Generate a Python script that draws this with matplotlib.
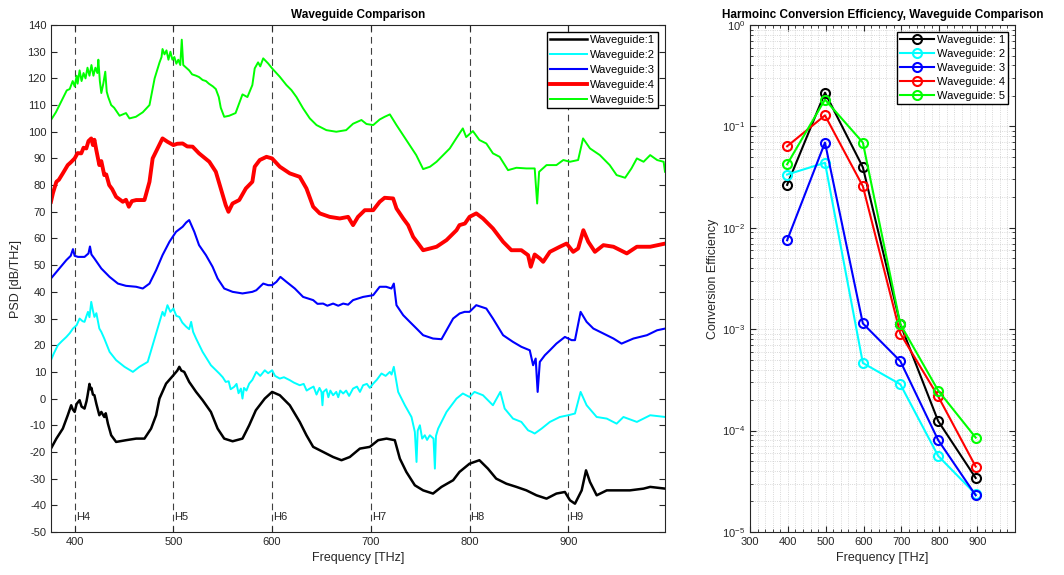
import numpy as np
import matplotlib.pyplot as plt
from matplotlib.ticker import MultipleLocator, LogLocator, NullFormatter

plt.rcParams['font.family'] = ['Liberation Sans', 'DejaVu Sans']
plt.rcParams['mathtext.fontset'] = 'custom'
plt.rcParams['mathtext.rm'] = 'Liberation Sans'
plt.rcParams['mathtext.it'] = 'Liberation Sans:italic'
plt.rcParams['axes.unicode_minus'] = False

# PSD traces, [frequency THz, PSD dB/THz]
wg1 = np.array([[376, -18.75], [381.5, -15], [388, -11.25], [393, -6.25], [396.5, -2.5], [398, -4], [400, -5],
                [402, -2], [405, -0.6], [407, -3], [410, -3.75], [412, -1], [413, 1], [415, 5.5], [416, 3.5],
                [417, 4], [418.5, 1.5], [420, 1.25], [422, -2], [425, -6.25], [427, -5], [430, -6.9],
                [431.5, -5.5], [433.7, -9.4], [437, -13.75], [442, -16.25], [452, -15.6], [462.3, -15],
                [470.7, -15], [477.4, -11.25], [482.5, -6.25], [485.9, 0], [492.6, 5.6], [500, 8.75],
                [504, 10.5], [506, 11.9], [508, 10.5], [511, 10], [516, 6.25], [523, 2.5], [529.6, -0.6],
                [538, -5], [544.8, -11.25], [551.5, -15], [560, -16], [570, -15], [576.8, -10], [583.5, -4.4],
                [592.6, 0], [600, 2.5], [607.8, 1.25], [617.9, -2.5], [628, -8.75], [634.8, -13.75],
                [641.6, -18.1], [651.7, -20], [661.8, -21.9], [670.3, -23.1], [678.7, -21.9], [688.9, -18.75],
                [699, -18.1], [707.4, -15.6], [715.9, -15], [724.3, -15.6], [729.4, -22.5], [736, -27.5],
                [744.6, -32.5], [753, -34.4], [763, -35.6], [771.6, -33.1], [783.4, -30.6], [789.8, -27.5],
                [800, -24.4], [810, -23.1], [818.6, -26.25], [827, -30], [837.3, -31.9], [847.5, -33.1],
                [857.6, -34.4], [867.8, -36.25], [878, -37.5], [888, -35.6], [896.6, -35], [901.7, -38.1],
                [906.8, -39.4], [913.6, -34.4], [918, -26.9], [922, -31.25], [928.8, -36.25], [939, -34.4],
                [949, -34.4], [962.4, -34.4], [976.3, -33.75], [983, -33.1], [998.3, -33.75]])

wg2 = np.array([[376, 14.4], [379, 17], [383, 20], [387, 21.5], [391.6, 23.1], [395, 24.5], [398.3, 26.25],
                [402, 27.5], [405, 30], [408, 29], [410, 28.75], [412, 31], [413.5, 32.5], [415, 30.5],
                [416.8, 36.25], [418.5, 33], [420, 30.6], [422, 32], [425, 26.25], [427, 25], [430, 22.5],
                [435.4, 17.5], [442, 14.4], [450.5, 11.9], [459, 10], [465.6, 11.9], [474, 13.75], [479, 20],
                [484, 26.25], [489, 32.5], [491, 31], [494, 35], [497, 32.5], [500, 33.75], [503, 31],
                [506, 30.6], [509, 28.5], [512.8, 27], [516, 26], [518, 28.75], [520, 25], [523, 22.5],
                [529.6, 17.5], [538, 12.5], [546.5, 9.4], [550, 8], [553, 6.25], [556, 6.5], [558, 3.5],
                [561.6, 4.4], [564, 5.5], [566, 2], [568.4, 3.75], [570, 0], [571.5, 4], [574, 3], [576.8, 5.6],
                [580, 7], [584, 10], [588, 8.5], [592.6, 10.6], [596, 9.5], [600, 10.6], [603, 8.5],
                [607.8, 7.5], [612, 8], [617.9, 6.9], [622, 6], [628, 5], [632, 5.5], [635, 3], [638.2, 3.75],
                [642, 4.5], [645, 1.5], [648, 4], [650, 2.5], [651, -2.5], [652, 2.5], [655, 3.5], [657, 0.5],
                [659, 3], [661.8, 1.25], [665, 2.5], [667, 0.5], [669, 3], [672, 1.9], [675, 3], [678, 1],
                [682, 3.75], [686, 4.5], [689, 2.5], [692.2, 5], [696, 5.5], [699, 4], [702.4, 5.6],
                [706, 7], [710.8, 9.4], [715, 8.5], [719.3, 10], [721, 9], [723.3, 11.9], [727.7, 2.5],
                [734.5, -2.5], [741.2, -6.9], [744.6, -12.5], [746.3, -23.75], [747.5, -12], [749.7, -10],
                [752, -15], [754.7, -13.75], [757, -15.5], [759.8, -13.75], [763.5, -15], [764.9, -26.25],
                [766, -14], [768.2, -11.25], [776.7, -5], [786.8, 0], [793.2, 1.9], [800, 0.6], [805, 2.5],
                [813.6, 1.25], [823.7, -2.5], [831.2, 2.5], [835.6, -3.75], [844, -7.5], [852.5, -8.75],
                [859.3, -11.9], [863, -12.5], [866, -13.1], [873, -11.25], [881.4, -8.75], [891.5, -6.9],
                [900, -6.25], [906.8, -5.6], [912.5, 2.5], [918.6, -2.5], [928.8, -6.9], [939, -7.5],
                [949, -9.4], [955.9, -6.9], [969.5, -8.75], [983, -6.25], [998.3, -6.9]])

wg3 = np.array([[376, 45], [383, 48.1], [391.6, 51.9], [396, 53.5], [398.3, 56], [400, 53.5], [403.4, 53.1],
                [410, 53.1], [414, 54.4], [415.5, 57], [417, 54], [420, 52.5], [427, 48.75], [435.4, 45.6],
                [443.8, 43.1], [452, 42.25], [462.3, 41.9], [469, 41.25], [475.8, 43.1], [482.5, 48.1],
                [489, 53.75], [496, 58.75], [502.7, 62.5], [509.4, 64.4], [513, 66], [516, 66.9],
                [521.2, 62.5], [526, 57.5], [533, 53.75], [539.7, 49.4], [544.8, 45], [551.5, 41.25],
                [560, 40], [570, 39.4], [580, 40], [584, 40.6], [591, 43.1], [596, 42.5], [600, 42.5],
                [604.4, 43.75], [608.4, 45.6], [614.5, 43.75], [623, 41.25], [631.4, 38.1], [641.6, 36.9],
                [646, 35.5], [651.7, 35.6], [656, 34.8], [661.8, 35.6], [667, 34.8], [672, 35.6], [677, 35.2],
                [682, 36.9], [692.2, 38.1], [702.4, 38.75], [709, 41.9], [715.5, 41.9], [720.9, 41.25],
                [723.3, 43.1], [726, 35], [732.8, 31.25], [739.5, 28.75], [746.3, 26.25], [753, 23.75],
                [763, 22.5], [771.6, 22.25], [776.7, 25.6], [783.4, 30], [790, 31.9], [795, 32.5], [800, 32.5],
                [806.8, 35], [817, 33.75], [823.7, 30], [834, 23.75], [844, 21.25], [852.5, 19.4], [861, 18.1],
                [864.4, 12.5], [867, 15], [869, 2.5], [871.2, 13.75], [876.3, 16.25], [881.4, 18.1], [888, 20.6],
                [896.6, 23.1], [903.4, 21.9], [906.8, 21.9], [912.5, 32.5], [918.6, 28.75], [925.4, 26.25],
                [939, 23.75], [945.8, 22.5], [954, 20.6], [966, 22.5], [979.7, 23.75], [990, 25.6],
                [998.3, 26.25]])

wg4 = np.array([[376, 73.75], [378, 77], [381.5, 81.25], [384, 82], [388, 84.4], [393, 87.5], [396, 88.5],
                [400, 90], [403, 92], [406.7, 91.9], [409, 94], [411.8, 93.75], [414, 96.5], [416.8, 97.5],
                [418.5, 95], [420, 97], [422, 93], [425, 87.5], [427, 89], [430, 83.75], [432, 84], [435, 80],
                [438, 78.5], [442, 75.6], [448.8, 73.75], [452, 74.5], [454.9, 71.9], [458, 74], [462.3, 74.4],
                [470.7, 74.4], [475.8, 81.25], [479, 90], [484, 93.75], [489, 97.5], [494, 96.25], [500, 95],
                [504, 95.5], [509.4, 95.6], [514, 94.5], [519.5, 94.4], [526, 91.9], [536.4, 88.75], [543, 85],
                [548, 78.75], [553, 72.5], [555.8, 70], [559.9, 73.1], [566.7, 74.4], [573.4, 78.75], [580, 81.25],
                [582.4, 86.9], [587.5, 89.4], [594.3, 90.6], [600, 90], [607.8, 86.9], [617.9, 84.4], [628, 83.1],
                [634.8, 78.75], [641.6, 71.9], [648.3, 69.4], [658.3, 68.1], [668.6, 67.5], [677, 68.1], [682, 65],
                [687, 68.1], [693.9, 70.6], [702.4, 70.6], [709, 73.75], [714, 75.25], [722.6, 75], [726, 71.25],
                [732.8, 67.5], [737.8, 65], [742.9, 60.6], [748, 58.1], [753, 55.6], [760, 56.25], [766.6, 56.9],
                [776.7, 59.4], [786.8, 63.1], [789.8, 65], [795.3, 65.6], [800, 68.1], [806.8, 69.4], [813.6, 67.5],
                [823.7, 63.75], [834, 58.75], [842.4, 55.6], [852.5, 55.6], [859.3, 53.75], [862, 49.4], [866, 54],
                [871.2, 52.5], [874.6, 51.25], [881.4, 55], [891.5, 56.9], [898.3, 58.1], [905, 55], [910, 56.25],
                [915.3, 63.1], [920.3, 58.75], [927, 55], [935.6, 57.5], [945.8, 56.9], [959.3, 54.4],
                [969.5, 56.9], [983, 56.9], [998.3, 58.1]])

wg5 = np.array([[376, 104.4], [381, 107.3], [388, 112.5], [392, 115.5], [395, 116], [398, 119], [400, 117],
                [402, 121], [403, 118], [405, 123], [407, 119], [409, 122], [411, 120], [413, 124], [415, 121],
                [417, 125], [419, 121], [421, 124], [423, 122], [424, 127], [425.5, 119], [427, 114.5],
                [429, 118], [431, 122.5], [432.5, 115], [434, 113], [437, 110], [440, 109], [445.5, 106],
                [452, 107], [455.5, 105], [462, 105.6], [469, 107.3], [475.8, 110], [481, 120], [486, 126],
                [488, 128], [489, 131], [491, 129], [493, 130.5], [495, 127], [497, 130], [499, 127], [501, 128],
                [503, 125.5], [505, 127], [507, 125], [508.5, 134.5], [510, 125], [513, 124], [516, 123],
                [519, 121.5], [523, 121], [526, 120.5], [529.6, 119.4], [533, 119], [536, 118], [540, 117],
                [543, 116], [546, 113], [548, 109], [551.5, 105.6], [556.6, 106], [563, 107], [567, 111],
                [570, 114], [575, 113], [580, 117.5], [582.4, 123.75], [585.8, 126], [588, 124.5], [591, 127.5],
                [596, 125.6], [600, 123.75], [607.8, 120.6], [614.5, 117.5], [619.6, 115.6], [624.7, 113],
                [631.4, 108.75], [638.2, 105], [645, 102.5], [655, 100.6], [665, 100], [675, 100.6], [682, 103],
                [690.5, 104.4], [695.6, 102.9], [702.4, 102.5], [709, 104.6], [714, 105.6], [719.3, 106.5],
                [726, 102.5], [736, 96.9], [746, 91.25], [753, 86], [760, 86.9], [766.6, 88.75], [773.3, 91.25],
                [780, 93.75], [786.5, 97.5], [793.2, 101.25], [796.6, 98], [803.4, 100.25], [810, 96.9],
                [817, 95.6], [823.7, 91.9], [830.5, 90.6], [839, 85.6], [847.5, 86.5], [857.6, 86.25],
                [866, 86.25], [868.5, 73.1], [870.5, 85], [878, 87.5], [888, 87.5], [895, 89.4], [901.7, 88.75],
                [910, 89.4], [915, 97.5], [922, 93.75], [932, 91.25], [942, 87.5], [949, 83.75], [957.6, 82.75],
                [964, 86.25], [969.5, 90], [976.3, 88.75], [983, 91.25], [990, 89.4], [996.6, 88.75], [998, 85]])

harm_freq = [400, 500, 600, 700, 800, 900]
harm_names = ['H4', 'H5', 'H6', 'H7', 'H8', 'H9']

# conversion efficiency per harmonic
ce_freq = [398, 498, 598, 697, 797, 896]
ce1 = [0.0265, 0.215, 0.0396, 0.00112, 1.24e-4, 3.41e-5]
ce2 = [0.0335, 0.0438, 4.64e-4, 2.86e-4, 5.62e-5, 2.36e-5]
ce3 = [0.00753, 0.0693, 0.00114, 4.84e-4, 8.05e-5, 2.30e-5]
ce4 = [0.0637, 0.1285, 0.0257, 9.05e-4, 2.17e-4, 4.42e-5]
ce5 = [0.0423, 0.184, 0.0693, 0.00112, 2.48e-4, 8.53e-5]

colors = ['k', (0, 1, 1), (0, 0, 1), (1, 0, 0), (0, 1, 0)]
psd_widths = [1.8, 1.4, 1.5, 2.8, 1.4]
axc = '#262626'

fig = plt.figure(figsize=(10.64, 5.75), dpi=100)

# left: PSD spectra
ax = fig.add_axes([0.0479, 0.0748, 0.5771, 0.8817])
for i, wg in enumerate([wg1, wg2, wg3, wg4, wg5]):
    ax.plot(wg[:, 0], wg[:, 1], color=colors[i], lw=psd_widths[i], label='Waveguide:%d' % (i + 1))
for f, name in zip(harm_freq, harm_names):
    ax.axvline(f, color='#404040', ls=(0, (6, 4)), lw=0.8, zorder=0)
    ax.text(f + 1, -44.5, name, fontsize=8, color='#262626', va='center', ha='left')
ax.set_xlim(376, 998)
ax.set_ylim(-50, 140)
ax.set_xticks(harm_freq)
ax.set_yticks(np.arange(-50, 141, 10))
ax.set_xlabel('Frequency [THz]', fontsize=9, color=axc)
ax.set_ylabel('PSD [dB/THz]', fontsize=9, color=axc, labelpad=4)
ax.set_title('Waveguide Comparison', fontsize=8.5, fontweight='bold', pad=5)
ax.legend(loc='upper right', fontsize=8, handlelength=3.3, frameon=True, fancybox=False,
          edgecolor='k', framealpha=1, borderpad=0.3, labelspacing=0.45, handletextpad=0.3,
          borderaxespad=0.6)

# right: conversion efficiency
ax2 = fig.add_axes([0.7049, 0.0748, 0.2491, 0.8817])
for i, ce in enumerate([ce1, ce2, ce3, ce4, ce5]):
    ax2.plot(ce_freq, ce, color=colors[i], lw=1.5, marker='o', ms=6.5, mfc='none', mew=1.5,
             label='Waveguide: %d' % (i + 1))
ax2.set_yscale('log')
ax2.set_xlim(300, 1000)
ax2.set_ylim(1e-5, 1)
ax2.set_xticks(range(300, 901, 100))
ax2.xaxis.set_minor_locator(MultipleLocator(20))
ax2.yaxis.set_major_locator(LogLocator(base=10, numticks=10))
ax2.yaxis.set_minor_locator(LogLocator(base=10, subs=np.arange(2, 10), numticks=20))
ax2.yaxis.set_minor_formatter(NullFormatter())
ax2.grid(True, which='both', ls=':', lw=0.6, color='#cccccc')
ax2.set_xlabel('Frequency [THz]', fontsize=9, color=axc)
ax2.set_ylabel('Conversion Efficiency', fontsize=9, color=axc, labelpad=2)
ax2.set_title('Harmoinc Conversion Efficiency, Waveguide Comparison', fontsize=8.5,
              fontweight='bold', pad=5)
ax2.legend(loc='upper right', fontsize=8, handlelength=3.0, frameon=True, fancybox=False,
           edgecolor='k', framealpha=1, borderpad=0.3, labelspacing=0.35, handletextpad=0.3,
           borderaxespad=0.6)

for a in (ax, ax2):
    a.tick_params(which='both', direction='in', top=True, right=True, colors=axc, labelsize=8,
                  labelcolor=axc)
    a.tick_params(which='major', length=4)
    a.tick_params(which='minor', length=2)
    for s in a.spines.values():
        s.set_color(axc)
        s.set_linewidth(0.8)

plt.savefig('out.png', dpi=100)
